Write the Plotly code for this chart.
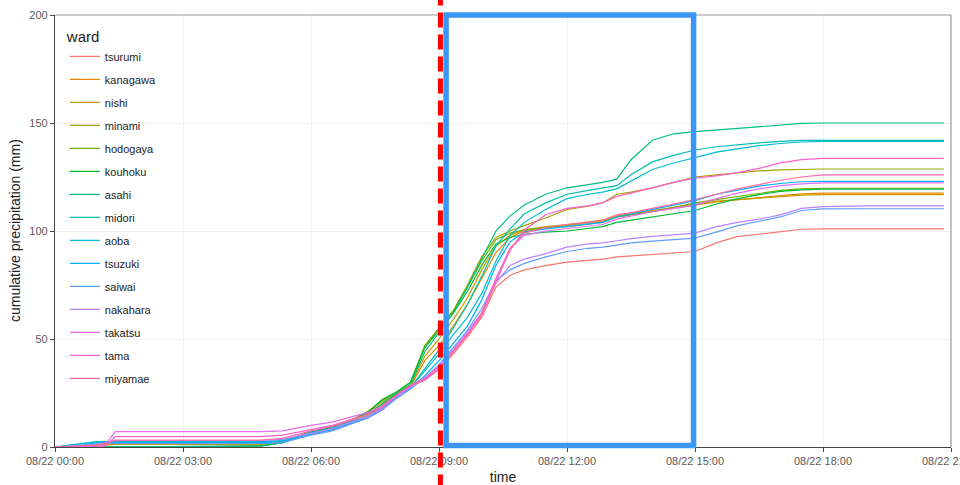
import plotly.graph_objects as go

DAY = "2019-08-22 "
times_hm = ["00:00", "00:40", "01:00", "01:10", "01:25", "02:00", "04:00", "04:50", "05:20", "06:00",
            "06:30", "07:00", "07:20", "07:40", "08:00", "08:20", "08:40", "09:00", "09:20", "09:40",
            "10:00", "10:20", "10:40", "11:00", "11:30", "12:00", "12:30", "12:50", "13:10", "13:30",
            "14:00", "14:30", "15:00", "15:30", "16:00", "16:30", "17:00", "17:30", "18:00", "19:00",
            "20:00", "20:50"]
times = [DAY + t for t in times_hm]

wards = ["tsurumi", "kanagawa", "nishi", "minami", "hodogaya", "kouhoku", "asahi", "midori",
         "aoba", "tsuzuki", "saiwai", "nakahara", "takatsu", "tama", "miyamae"]
colors = ["#F8766D", "#E58700", "#C99800", "#A3A500", "#6BB100", "#00BA38", "#00BF7D", "#00C0AF",
          "#00BCD8", "#00B0F6", "#619CFF", "#B983FF", "#E76BF3", "#FD61D1", "#FF67A4"]

tsurumi = [0, 0.5, 1.2, 1.5, 1.8, 1.8, 1.8, 1.8, 2.5, 6, 8, 11.5, 14, 18, 23.5, 28, 31, 36, 43, 51, 60, 74, 79.5, 82, 84, 85.6, 86.5, 87, 88, 88.5, 89.3, 90, 90.5, 94.5, 97.5, 98.5, 99.8, 100.8, 101, 101, 101, 101]
kanagawa = [0, 0.5, 1, 1, 1.2, 1.2, 1.2, 1.3, 2.5, 7, 9, 12.5, 15, 19.5, 24.5, 28, 40, 47, 56, 66, 78, 90, 97, 100, 101.5, 102.5, 103.5, 104.5, 106.5, 107.5, 109, 110.5, 112, 113.5, 114.5, 115.5, 116.5, 117.2, 117.5, 117.5, 117.5, 117.5]
nishi = [0, 0.5, 1, 1, 1.2, 1.2, 1.2, 1.3, 2.5, 7, 9.5, 13, 15.5, 20, 25, 28.5, 42, 50, 59, 69, 82, 93, 98, 100.5, 102, 103, 104, 105, 107, 108, 109.5, 111, 112.5, 113.8, 114.5, 115.3, 116, 116.6, 116.8, 116.8, 116.8, 116.8]
minami = [0, 0, 0.3, 0.3, 0.3, 0.3, 0.3, 0.5, 2, 7, 9.5, 13, 16, 21, 25, 30, 46, 55, 63, 75, 88, 97, 100, 102.5, 106, 110, 111.5, 113, 117, 118, 120, 122.5, 125, 126, 127, 127.8, 128.3, 128.6, 128.7, 128.7, 128.7, 128.7]
hodogaya = [0, 0, 0.3, 0.3, 0.3, 0.3, 0.3, 0.5, 2, 7, 9.5, 13, 16.5, 21.5, 25, 30, 47, 55, 63, 74, 86, 96, 99, 100.5, 101.5, 102, 103, 104, 106.5, 107.5, 109, 111, 113, 114.5, 116, 117.5, 118.8, 119.5, 119.8, 119.8, 119.8, 119.8]
kouhoku = [0, 0, 0.3, 0.3, 0.3, 0.3, 0.3, 0.5, 2, 7, 9, 12.5, 16, 22, 25.5, 30, 46, 54, 62, 72, 84, 94, 97, 98.5, 99.5, 100, 101, 102, 104, 105, 106.5, 108, 109.5, 112.5, 115, 116.8, 118.3, 119, 119.4, 119.4, 119.4, 119.4]
asahi = [0, 0, 0.3, 0.3, 0.3, 0.3, 0.3, 0.5, 2, 7, 9, 12.5, 15, 20, 24.5, 29, 44, 53, 62, 74, 87, 100, 107, 112, 117, 120, 121.5, 122.5, 124, 133, 142, 145, 146, 146.8, 147.5, 148.5, 149.3, 149.8, 150, 150, 150, 150]
midori = [0, 1.5, 2.5, 2.5, 2.5, 2.5, 2.5, 2.5, 3, 6.5, 8.5, 12, 14, 18, 23, 27.5, 36, 45, 55, 66, 79, 93, 101, 108, 113, 117, 118.8, 119.8, 121, 126, 132, 135, 137.5, 139, 140, 140.8, 141.5, 142, 142, 142, 142, 142]
aoba = [0, 1.5, 2.5, 2.5, 2.5, 2.5, 2.5, 2.5, 3, 6.5, 8.5, 12, 14, 18, 23, 27.5, 35, 43, 52, 60, 71, 86, 98, 104, 110, 115, 117, 118, 119.5, 123, 128.5, 131.5, 134, 136.5, 138, 139.5, 140.5, 141.2, 141.5, 141.5, 141.5, 141.5]
tsuzuki = [0, 1, 2, 2, 2, 2, 2, 2, 2.5, 6, 8, 11.5, 13.5, 17.5, 22.5, 27, 33, 40, 48, 56, 68, 84, 95, 99.5, 101, 102, 103, 104, 106.5, 108, 110, 112, 114, 117, 119, 120.8, 122, 122.8, 123, 123, 123, 123]
saiwai = [0, 1, 1.5, 1.5, 1.5, 1.5, 1.5, 1.5, 2, 5.5, 7.5, 11, 13.5, 17, 22.5, 27, 32, 38, 46, 54, 64, 77, 82, 85, 88, 90.5, 92, 92.5, 93.5, 94.5, 95.3, 96, 96.7, 99.5, 102.5, 104.5, 106.5, 109.5, 110.2, 110.3, 110.3, 110.3]
nakahara = [0, 0.5, 1.5, 1.8, 3, 3, 3, 3, 3.5, 6.5, 8.5, 12, 14, 17.5, 23, 27.5, 32, 37, 45, 53, 62, 76, 84, 87, 89.5, 92.5, 94, 94.5, 95.5, 96.5, 97.5, 98.3, 99, 102, 104, 105.5, 107.5, 110.5, 111.3, 111.6, 111.6, 111.6]
takatsu = [0, 0, 0.2, 1, 7.1, 7.1, 7.1, 7.1, 7.5, 10, 11.5, 14, 16, 19, 24, 28.5, 32, 37, 45, 53, 62, 78, 92, 98, 100, 101, 102, 103, 105.5, 107, 109, 110.5, 112, 115, 117.5, 119.5, 121, 121.8, 122.3, 122.3, 122.3, 122.3]
tama = [0, 0, 0, 0.5, 4.8, 4.8, 4.8, 4.8, 5.5, 8, 10, 13, 15, 18.5, 24, 28.5, 31.5, 37, 44, 52, 62, 77, 91, 100.5, 107.5, 110.5, 111.6, 113, 116, 117.5, 120, 122.5, 124.5, 125.5, 127, 129, 131.5, 133, 133.6, 133.6, 133.6, 133.6]
miyamae = [0, 0.5, 1, 1.5, 3.2, 3.2, 3.2, 3.2, 4, 7.5, 9.5, 13, 15, 18.5, 24, 28.5, 31, 36, 44, 52, 61, 76, 92, 99, 101.5, 103, 104, 105, 107.5, 108.5, 110.5, 112.5, 114.5, 117, 119.5, 121.5, 123.5, 125, 126, 126, 126, 126]

series = [tsurumi, kanagawa, nishi, minami, hodogaya, kouhoku, asahi, midori,
          aoba, tsuzuki, saiwai, nakahara, takatsu, tama, miyamae]

x_ticks = [DAY + h for h in ["00:00", "03:00", "06:00", "09:00", "12:00", "15:00", "18:00", "21:00"]]
y_ticks = [0, 50, 100, 150, 200]
marker_time = DAY + "09:02"
box_start, box_end = DAY + "09:10", DAY + "14:58"

FONT = "Liberation Sans, Arial, sans-serif"

fig = go.Figure()
for name, vals, col in zip(wards, series, colors):
    fig.add_trace(go.Scatter(x=times, y=vals, mode="lines", name=name, legendgroup=name,
                             line=dict(color=col, width=1.2), hoverinfo="skip"))

fig.update_layout(
    width=960, height=485,
    margin=dict(l=55, r=9, t=15, b=38, autoexpand=False),
    paper_bgcolor="white", plot_bgcolor="white",
    font=dict(family=FONT, size=11, color="#333"),
    showlegend=True,
    legend=dict(
        x=0.011, y=0.983, xanchor="left", yanchor="top",
        bgcolor="rgba(255,255,255,0)",
        title=dict(text="ward", font=dict(size=15, color="#222")),
        font=dict(size=11, color="#222"),
        tracegroupgap=4,
        itemwidth=30,
    ),
    xaxis=dict(
        range=[DAY + "00:00", DAY + "21:00"],
        tickvals=x_ticks, tickformat="%m/%d %H:%M",
        tickfont=dict(size=11, color="#5a5a5a"),
        ticks="outside", ticklen=4, tickcolor="#444",
        ticklabeloverflow="allow",
        showline=True, linecolor="#444", linewidth=1.2,
        showgrid=True, gridcolor="#efefef", gridwidth=1,
        zeroline=False, automargin=False,
        title=dict(text="time", font=dict(size=14, color="#222")),
    ),
    yaxis=dict(
        range=[0, 200], tickvals=y_ticks,
        tickfont=dict(size=11, color="#5a5a5a"),
        ticks="outside", ticklen=4, tickcolor="#444",
        showline=True, linecolor="#444", linewidth=1.2,
        showgrid=True, gridcolor="#efefef", gridwidth=1,
        zeroline=False, automargin=False,
    ),
    annotations=[
        dict(text="cumulative precipitation (mm)", xref="paper", yref="paper",
             x=-0.0446, y=0.5, xanchor="center", yanchor="middle", textangle=-90,
             showarrow=False, font=dict(size=14, color="#222")),
    ],
    shapes=[
        dict(type="line", xref="paper", yref="paper", x0=0, x1=1, y0=1, y1=1,
             line=dict(color="#999", width=1.2)),
        dict(type="line", xref="paper", yref="paper", x0=1, x1=1, y0=0, y1=1,
             line=dict(color="#999", width=1.2)),
        dict(type="rect", xref="x", yref="paper", x0=box_start, x1=box_end, y0=0.0035, y1=1.0,
             line=dict(color="#3a98f4", width=5.5)),
        dict(type="line", xref="x", yref="paper", x0=marker_time, x1=marker_time, y0=-0.2, y1=1.2,
             line=dict(color="#ff0000", width=5, dash="15px,7px")),
    ],
)

fig.write_html("out.html", config={"displayModeBar": False},
               post_script="document.body.style.margin='0px';")
